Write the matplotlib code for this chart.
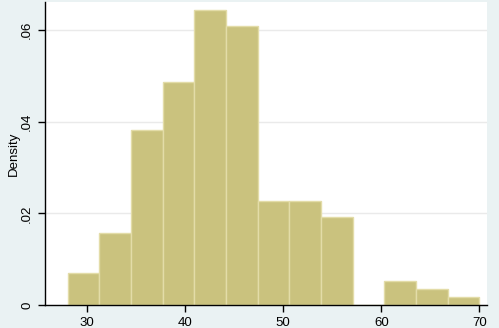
import matplotlib
matplotlib.use("Agg")
import matplotlib.pyplot as plt
import numpy as np

# 13 bins from 28 to 70
bin_start = 28
bin_end = 70
n_bins = 13
density = [0.00696, 0.01565, 0.03826, 0.04870, 0.06435, 0.06087,
           0.02261, 0.02261, 0.01913, 0.0, 0.00522, 0.00348, 0.00174]

x_ticks = [30, 40, 50, 60, 70]
y_ticks = [0, 0.02, 0.04, 0.06]
y_labels = ["0", ".02", ".04", ".06"]

plt.rcParams["font.family"] = ["Liberation Sans", "DejaVu Sans"]

edges = np.linspace(bin_start, bin_end, n_bins + 1)
widths = np.diff(edges)

fig = plt.figure(figsize=(4.99, 3.28), dpi=100, facecolor="#EAF2F3")
ax = fig.add_axes([0.0902, 0.0701, 0.886, 0.9238])
ax.set_facecolor("white")

ax.bar(edges[:-1], density, width=widths, align="edge",
       color="#CAC27E", edgecolor="#E3DCA8", linewidth=1.0, zorder=2)

ax.set_xlim(25.7, 70.8)
ax.set_ylim(0, 0.0661)
ax.set_xticks(x_ticks)
ax.set_yticks(y_ticks)
ax.set_yticklabels(y_labels, rotation=90, va="center")
ax.yaxis.grid(True, color="#EAEAEA", linewidth=1.0, zorder=0)
ax.set_axisbelow(True)

for side in ["top", "right"]:
    ax.spines[side].set_visible(False)
for side in ["left", "bottom"]:
    ax.spines[side].set_color("black")
    ax.spines[side].set_linewidth(1.0)

ax.tick_params(axis="both", direction="out", length=5, width=1,
               labelsize=9.5, colors="black")
ax.set_ylabel("Density", fontsize=9.5, labelpad=1)

fig.savefig("out.png", dpi=100, facecolor=fig.get_facecolor())
